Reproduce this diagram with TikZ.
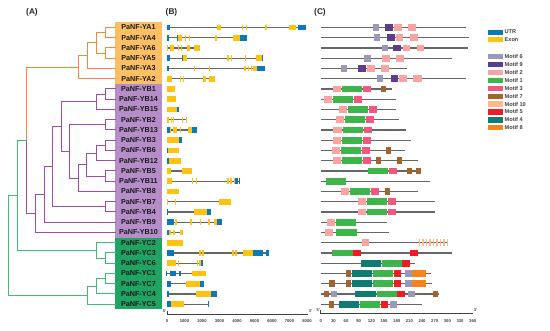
\documentclass[tikz,border=0pt]{standalone}
\usepackage{fontspec}
\setmainfont{Liberation Sans}
\usetikzlibrary{calc}
\definecolor{yacol}{HTML}{FBC063}
\definecolor{ybcol}{HTML}{B68DC8}
\definecolor{yccol}{HTML}{1FA463}
\definecolor{torg}{HTML}{F5873A}
\definecolor{tpur}{HTML}{A349AB}
\definecolor{tgrn}{HTML}{3DBE74}
\definecolor{utrc}{HTML}{0B78B8}
\definecolor{exonc}{HTML}{FFC20E}
\definecolor{linec}{HTML}{666666}
\definecolor{mot1}{HTML}{3DB54A}
\definecolor{mot2}{HTML}{F9A3A3}
\definecolor{mot3}{HTML}{F2577F}
\definecolor{mot4}{HTML}{0E7C72}
\definecolor{mot5}{HTML}{EE1C25}
\definecolor{mot6}{HTML}{9C98B8}
\definecolor{mot7}{HTML}{A4622C}
\definecolor{mot8}{HTML}{F7821E}
\definecolor{mot9}{HTML}{5A3D8C}
\definecolor{mot10}{HTML}{FDB98A}
\tikzset{
  lab/.style={anchor=west,minimum width=46.5,inner sep=0,font=\fontsize{7.2}{8}\selectfont\bfseries,text=black!90},
  ttl/.style={inner sep=0,font=\fontsize{8.3}{9}\selectfont\bfseries,text=black!85},
  trline/.style={line width=1pt,line cap=rect},
  gline/.style={draw=linec,line width=1.1pt},
  axline/.style={draw=black!75,line width=0.8pt},
  axlab/.style={inner sep=0,font=\fontsize{4.2}{5}\selectfont\bfseries,text=black!75},
  primelab/.style={inner sep=0,font=\fontsize{4}{5}\selectfont\bfseries,text=black!75},
  legbox/.style={minimum width=14.7,minimum height=5.3,inner sep=0,draw=none},
  legtxt/.style={anchor=west,inner sep=0,font=\fontsize{5.6}{6}\selectfont\bfseries,text=black!75}
}
\newcommand{\genln}[3]{\draw[gline] (#2,{ry(#1)}) -- (#3,{ry(#1)});}
\newcommand{\genex}[3]{\fill[exonc] (#2,{ry(#1)-2.9}) rectangle (#3,{ry(#1)+2.9});}
\newcommand{\genut}[3]{\fill[utrc] (#2,{ry(#1)-2.9}) rectangle (#3,{ry(#1)+2.9});}
\newcommand{\motbox}[4]{\fill[#4] (#2,{ry(#1)-3.3}) rectangle (#3,{ry(#1)+3.3});}
\begin{document}
\begin{tikzpicture}[x=1pt,y=-1pt,declare function={ry(\i)=27.5+10.25*\i;}]
\fill[white] (0,0) rectangle (550,331);
\useasboundingbox (0,0) rectangle (550,331);

% titles
\node[ttl] (tA) at (32,12) {(A)};
\node[ttl] (tB) at (171.5,12) {(B)};
\node[ttl] (tC) at (320,12) {(C)};

% group boxes
\fill[yacol] (115,22.4) rectangle (161.5,83.9);
\fill[ybcol] (115,83.9) rectangle (161.5,237.6);
\fill[yccol] (115,237.6) rectangle (161.5,309.4);

% labels
\foreach \nm [count=\i from 0] in {YA1,YA4,YA6,YA5,YA3,YA2,YB1,YB14,YB15,YB2,YB13,YB3,YB6,YB12,YB5,YB11,YB8,YB7,YB4,YB9,YB10,YC2,YC3,YC6,YC1,YC7,YC4,YC5}
  \node[lab] (n\i) at (115,{ry(\i)}) {PaNF-\nm};

% tree internal nodes
\coordinate (a1) at (105,32.625);
\coordinate (a2) at (105,53.125);
\coordinate (a3) at (96.7,42.875);
\coordinate (a4) at (87.3,55.69);
\coordinate (a5) at (78.3,67.22);
\coordinate (b1) at (105,94.125);
\coordinate (b2) at (96,101.81);
\coordinate (b3) at (105,124.875);
\coordinate (b4) at (105,145.375);
\coordinate (b5) at (96,153.06);
\coordinate (b6) at (105,176.125);
\coordinate (b7) at (86.7,164.59);
\coordinate (b8) at (78.3,178.05);
\coordinate (b9) at (69.3,151.46);
\coordinate (b10) at (61,126.64);
\coordinate (b11) at (105,206.875);
\coordinate (b12) at (52.3,166.76);
\coordinate (b13) at (44,194.5);
\coordinate (b14) at (35,213.5);
\coordinate (ab) at (26.3,140.36);
\coordinate (c1) at (105,258.125);
\coordinate (c2) at (96.7,250.44);
\coordinate (c3) at (105,278.625);
\coordinate (c4) at (96.7,286.31);
\coordinate (c5) at (87.3,295.28);
\coordinate (abc) at (17.5,195.4);
\coordinate (root) at (8.3,245.34);

\draw[trline,torg] (a1) |- (n0.west) (a1) |- (n1.west)
  (a2) |- (n2.west) (a2) |- (n3.west)
  (a3) |- (a1) (a3) |- (a2)
  (a4) |- (a3) (a4) |- (n4.west)
  (a5) |- (a4) (a5) |- (n5.west)
  (ab) |- (a5);
\draw[trline,tpur] (b1) |- (n6.west) (b1) |- (n7.west)
  (b2) |- (b1) (b2) |- (n8.west)
  (b3) |- (n9.west) (b3) |- (n10.west)
  (b4) |- (n11.west) (b4) |- (n12.west)
  (b5) |- (b4) (b5) |- (n13.west)
  (b6) |- (n14.west) (b6) |- (n15.west)
  (b7) |- (b5) (b7) |- (b6)
  (b8) |- (b7) (b8) |- (n16.west)
  (b9) |- (b3) (b9) |- (b8)
  (b10) |- (b2) (b10) |- (b9)
  (b11) |- (n17.west) (b11) |- (n18.west)
  (b12) |- (b10) (b12) |- (b11)
  (b13) |- (b12) (b13) |- (n19.west)
  (b14) |- (b13) (b14) |- (n20.west)
  (ab) |- (b14);
\draw[trline,tgrn] (c1) |- (n22.west) (c1) |- (n23.west)
  (c2) |- (n21.west) (c2) |- (c1)
  (c3) |- (n24.west) (c3) |- (n25.west)
  (c4) |- (c3) (c4) |- (n26.west)
  (c5) |- (c4) (c5) |- (n27.west)
  (abc) |- (ab) (abc) |- (c2)
  (root) |- (abc) (root) |- (c5);

% ---------- panel B: gene structures ----------
% YA1
\genln{0}{166.7}{306}\genut{0}{166.7}{170}\genex{0}{216.7}{221}\genex{0}{241.5}{242.8}\genex{0}{246}{247.3}\genex{0}{265.3}{266.8}\genex{0}{289}{296.3}\genut{0}{298.3}{306}
% YA4
\genln{1}{166.7}{247.3}\genut{1}{166.7}{169}\genut{1}{176.7}{178.3}\genex{1}{178.3}{181.7}\genex{1}{184.5}{185.7}\genex{1}{188.7}{190}\genex{1}{214.5}{216.7}\genex{1}{233.3}{240}\genut{1}{240}{247.3}
% YA6
\genln{2}{166.5}{200}\genex{2}{166.5}{167.5}\genex{2}{170}{174}\genex{2}{177.5}{178.7}\genex{2}{180.5}{181.7}\genex{2}{187.3}{189.5}\genex{2}{193.5}{200}
% YA5
\genln{3}{166.7}{263.3}\genut{3}{166.7}{170}\genut{3}{181.7}{183.3}\genex{3}{183.3}{187.3}\genex{3}{227.3}{228.6}\genex{3}{230.5}{231.8}\genex{3}{244.5}{246.3}\genex{3}{255.7}{261.7}\genut{3}{261.7}{263.3}
% YA3
\genln{4}{166.7}{265}\genut{4}{166.7}{169.3}\genex{4}{193.5}{194.5}\genex{4}{208.5}{209.5}\genex{4}{244.3}{245.5}\genex{4}{247.5}{248.7}\genex{4}{250.5}{251.7}\genex{4}{253}{256.5}\genut{4}{256.5}{265}
% YA2
\genln{5}{166.7}{215}\genex{5}{166.7}{171.7}\genex{5}{179.5}{180.7}\genex{5}{182.8}{184}\genex{5}{203.3}{205.7}\genex{5}{209}{215}
% YB1, YB14, YB15
\genex{6}{166.7}{175}
\genex{7}{166.7}{176}
\genex{8}{166.7}{176.7}\genut{8}{176.7}{179}
% YB2
\genln{9}{166.7}{187.3}\genex{9}{166.7}{168.5}\genex{9}{171}{172.2}\genex{9}{173}{174.2}\genex{9}{181.5}{183.3}\genex{9}{185.7}{187.3}
% YB13
\genln{10}{166.7}{196.7}\genut{10}{166.7}{170}\genex{10}{170}{171}\genex{10}{173.3}{176.7}\genex{10}{179.5}{180.8}\genex{10}{187.5}{192}\genut{10}{192}{196.7}
% YB3, YB6, YB12
\genex{11}{167}{179.3}\genut{11}{179.3}{181.7}
\genut{12}{166.7}{168.3}\genex{12}{168.3}{179.3}
\genut{13}{166.7}{168.5}\genex{13}{168.5}{181}
% YB5
\genln{14}{167}{191.7}\genex{14}{166.7}{170.7}\genex{14}{181.7}{191.7}
% YB11
\genln{15}{167}{240}\genex{15}{166.7}{171.7}\genex{15}{191.7}{193.3}\genex{15}{195.5}{196.8}\genex{15}{227.3}{228.7}\genex{15}{230.3}{232.3}\genex{15}{234}{235}\genut{15}{235.3}{238}\genut{15}{238.7}{240}
% YB8
\genex{16}{167}{179.3}
% YB7
\genln{17}{167}{231}\genex{17}{166.8}{167.8}\genex{17}{174.5}{175.7}\genex{17}{219.3}{231}
% YB4
\genln{18}{167}{210.7}\genut{18}{167}{168.3}\genex{18}{194}{207.3}\genut{18}{207.3}{210.7}
% YB9
\genln{19}{166.7}{222.3}\genut{19}{166.7}{173.8}\genex{19}{175.3}{176.5}\genex{19}{190}{191.7}\genex{19}{199.5}{200.8}\genex{19}{208.3}{209.5}\genex{19}{214}{216.7}\genut{19}{216.7}{222.3}
% YB10
\genln{20}{166.7}{183.3}\genut{20}{166.7}{168.5}\genex{20}{168.5}{171.3}\genex{20}{173.3}{175}\genex{20}{179.5}{183.3}
% YC2
\genex{21}{167.3}{183.3}
% YC3
\genln{22}{166.7}{269.3}\genut{22}{166.7}{174}\genex{22}{199.2}{200.6}\genex{22}{202.3}{203.5}\genex{22}{231.9}{233.5}\genex{22}{235.3}{236.7}\genex{22}{242.7}{252.5}\genut{22}{252.5}{263.3}\genut{22}{266}{269.3}
% YC6
\genln{23}{167}{203.3}\genex{23}{167.3}{175.5}\genex{23}{178}{179}\genex{23}{196.7}{198.3}\genex{23}{199.3}{200.7}\genut{23}{200.7}{203.3}
% YC1
\genln{24}{166}{205.5}\genut{24}{165.8}{167.3}\genut{24}{170}{176}\genut{24}{178.6}{180.7}\genex{24}{191.7}{205.5}
% YC7
\genln{25}{166.7}{203.5}\genut{25}{166.7}{171}\genex{25}{186}{200}\genut{25}{200}{203.7}
% YC4
\genln{26}{166.7}{216.7}\genut{26}{166.7}{169}\genex{26}{195.7}{210.7}\genut{26}{210.7}{216.7}
% YC5
\genln{27}{166.7}{208.7}\genut{27}{166.7}{171}\genex{27}{171}{184}\genut{27}{207.5}{208.8}

% axis B
\draw[axline] (167,311.5) -- (167,314) -- (307,314);
\foreach \v [count=\k from 0] in {0,1000,2000,3000,4000,5000,6000,7000,8000} {
  \draw[axline] ({167+17.5*\k},314) -- ({167+17.5*\k},315.3);
  \node[axlab] (bx\k) at ({167+17.5*\k},321.5) {\v};
}
\node[primelab] (b5p) at (164.5,311) {5'};
\node[primelab] (b3p) at (310.5,311) {3'};

% ---------- panel C: motifs ----------
% YA1
\genln{0}{320.7}{465.7}\motbox{0}{373.3}{379.3}{mot6}\motbox{0}{385.3}{393.3}{mot9}\motbox{0}{394}{401.7}{mot2}\motbox{0}{408.3}{416}{mot2}
% YA4
\genln{1}{320.7}{469}\motbox{1}{374}{380}{mot6}\motbox{1}{387}{395}{mot9}\motbox{1}{395.7}{403.3}{mot2}\motbox{1}{410}{417.7}{mot2}
% YA6
\genln{2}{320.7}{467.7}\motbox{2}{382}{388}{mot6}\motbox{2}{393.3}{401}{mot9}\motbox{2}{402.7}{410}{mot2}\motbox{2}{416.7}{424.3}{mot2}
% YA5
\genln{3}{320.7}{452.3}\motbox{3}{364.3}{370.7}{mot6}\motbox{3}{382.3}{390}{mot2}\motbox{3}{396}{404}{mot2}
% YA3
\genln{4}{320.7}{406.7}\motbox{4}{341.3}{347.3}{mot6}\motbox{4}{358.3}{366}{mot9}\motbox{4}{366.7}{375}{mot2}\motbox{4}{381}{389}{mot2}
% YA2
\genln{5}{320.7}{466}\motbox{5}{376.7}{382.7}{mot6}\motbox{5}{390.7}{398.3}{mot9}\motbox{5}{399.3}{407.3}{mot2}\motbox{5}{413.3}{421.7}{mot2}
% YB1
\genln{6}{320.7}{391.7}\motbox{6}{333.3}{341.3}{mot2}\motbox{6}{342.3}{361.7}{mot1}\motbox{6}{362.7}{370.7}{mot3}\motbox{6}{381}{386}{mot7}
% YB14
\genln{7}{320.7}{396.3}\motbox{7}{324}{332}{mot2}\motbox{7}{332.7}{352.7}{mot1}\motbox{7}{353.7}{362}{mot3}
% YB15
\genln{8}{320.7}{396}\motbox{8}{339}{347}{mot2}\motbox{8}{347.7}{367.7}{mot1}\motbox{8}{368.7}{376.7}{mot3}
% YB2
\genln{9}{320.7}{399}\motbox{9}{336}{344.3}{mot2}\motbox{9}{345}{365}{mot1}\motbox{9}{366}{374}{mot3}
% YB13
\genln{10}{320.7}{406}\motbox{10}{333.3}{341.7}{mot2}\motbox{10}{342.7}{362.7}{mot1}\motbox{10}{363.7}{371.7}{mot3}
% YB3
\genln{11}{320.7}{411.3}\motbox{11}{333.3}{341.3}{mot2}\motbox{11}{342.3}{362}{mot1}\motbox{11}{363.3}{371.3}{mot3}
% YB6
\genln{12}{320.7}{405}\motbox{12}{331.7}{340}{mot2}\motbox{12}{340.7}{361}{mot1}\motbox{12}{362}{370}{mot3}\motbox{12}{386}{391}{mot7}
% YB12
\genln{13}{320.7}{417.7}\motbox{13}{333.3}{341.3}{mot2}\motbox{13}{342.3}{362.3}{mot1}\motbox{13}{363.3}{371}{mot3}\motbox{13}{375.7}{380.7}{mot7}\motbox{13}{396.7}{401.7}{mot7}
% YB5
\genln{14}{320.7}{419.3}\motbox{14}{368.3}{388.3}{mot1}\motbox{14}{389.3}{397.3}{mot3}\motbox{14}{406.7}{411.7}{mot7}\motbox{14}{416}{421}{mot7}
% YB11
\genln{15}{320.7}{430}\motbox{15}{326}{346}{mot1}
% YB8
\genln{16}{320.7}{418.3}\motbox{16}{340.7}{349.3}{mot2}\motbox{16}{350}{370}{mot1}\motbox{16}{371}{379}{mot3}\motbox{16}{385}{390}{mot7}
% YB7, YB4
\genln{17}{320.7}{435}\motbox{17}{357.7}{366}{mot2}\motbox{17}{366.7}{386.7}{mot1}\motbox{17}{387.7}{395.7}{mot3}
\genln{18}{320.7}{435}\motbox{18}{357.7}{366}{mot2}\motbox{18}{366.7}{386.7}{mot1}\motbox{18}{387.7}{395.7}{mot3}
% YB9, YB10
\genln{19}{320.7}{387.3}\motbox{19}{326.7}{335.3}{mot2}\motbox{19}{336}{356}{mot1}
\genln{20}{320.7}{389}\motbox{20}{325}{333}{mot2}\motbox{20}{336}{356.7}{mot1}
% YC2
\genln{21}{320.7}{447.7}\motbox{21}{361.7}{369.3}{mot2}
\foreach \k in {0,...,8} \fill[mot10] ({418.5+3.5*\k},{ry(21)-3.3}) rectangle ({420.2+3.5*\k},{ry(21)+3.3});
% YC3
\genln{22}{320.7}{451.7}\motbox{22}{332.3}{352.7}{mot1}\motbox{22}{353.3}{361}{mot5}\motbox{22}{410}{417.7}{mot5}
% YC6
\genln{23}{320.7}{415}\motbox{23}{360.7}{381}{mot4}\motbox{23}{381.7}{401.7}{mot1}\motbox{23}{402.3}{410}{mot5}
% YC1
\genln{24}{320.7}{430.7}\motbox{24}{345.7}{351}{mot7}\motbox{24}{351.7}{371.7}{mot4}\motbox{24}{372.7}{392.7}{mot1}\motbox{24}{393.7}{401}{mot5}\motbox{24}{405}{411.7}{mot6}\motbox{24}{412.3}{426}{mot8}
% YC7
\genln{25}{320.7}{431.7}\motbox{25}{329.3}{335}{mot7}\motbox{25}{345.7}{351}{mot7}\motbox{25}{351.7}{371.7}{mot4}\motbox{25}{372.7}{392.7}{mot1}\motbox{25}{393.7}{401}{mot5}\motbox{25}{405}{411.7}{mot6}\motbox{25}{412.3}{426}{mot8}
% YC4
\genln{26}{320.7}{439.3}\motbox{26}{324}{329.3}{mot7}\motbox{26}{331}{337.3}{mot6}\motbox{26}{355.3}{376}{mot4}\motbox{26}{376.7}{396.7}{mot1}\motbox{26}{397.3}{404.7}{mot5}\motbox{26}{408.3}{415}{mot6}\motbox{26}{432.7}{437.7}{mot7}
% YC5
\genln{27}{320.7}{421.7}\motbox{27}{329.3}{334.3}{mot7}\motbox{27}{338.7}{359.3}{mot4}\motbox{27}{360}{380}{mot1}\motbox{27}{380.7}{387.7}{mot5}\motbox{27}{390}{396.7}{mot6}

% axis C
\draw[axline] (320.7,310.5) -- (320.7,313) -- (472.7,313);
\foreach \v [count=\k from 0] in {0,30,60,90,120,150,180,210,240,270,300,330,360} {
  \draw[axline] ({320.7+12.667*\k},313) -- ({320.7+12.667*\k},314.3);
  \node[axlab] (cx\k) at ({320.7+12.667*\k},320.8) {\v};
}
\node[primelab] (c5p) at (318.3,309.7) {5'};
\node[primelab] (c3p) at (475.5,309.7) {3'};

% legend
\node[legbox,fill=utrc] (lu) at (495.3,32.3) {};
\node[legtxt] (lut) at (504.5,31.6) {UTR};
\node[legbox,fill=exonc] (le) at (495.3,39.4) {};
\node[legtxt] (let) at (504.5,39.2) {Exon};
\foreach \c/\t [count=\k from 0] in {mot6/Motif 6,mot9/Motif 9,mot2/Motif 2,mot1/Motif 1,mot3/Motif 3,mot7/Motif 7,mot10/Motif 10,mot5/Motif 5,mot4/Motif 4,mot8/Motif 8} {
  \node[legbox,fill=\c] (lb\k) at (495.3,{56.7+7.9*\k}) {};
  \node[legtxt] (lt\k) at (504.5,{56.7+7.9*\k}) {\t};
}
\end{tikzpicture}
\end{document}
